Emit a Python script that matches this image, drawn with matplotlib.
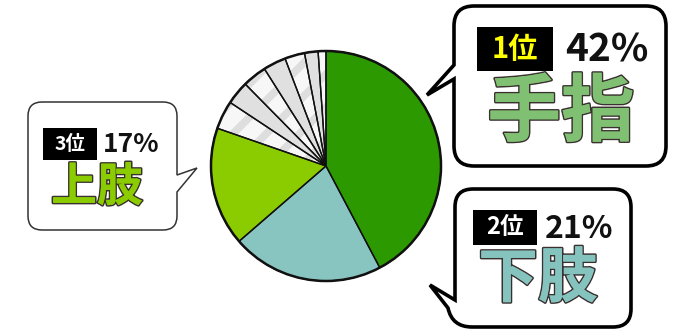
import matplotlib
matplotlib.use("Agg")
import matplotlib.pyplot as plt
from matplotlib.path import Path
from matplotlib.patches import PathPatch, Circle, Rectangle
import matplotlib.patheffects as pe

plt.rcParams['font.family'] = ['Noto Sans CJK JP', 'DejaVu Sans']
plt.rcParams['hatch.linewidth'] = 5.5
plt.rcParams['hatch.color'] = '#dedede'

# ---- data ----
categories = ["手指", "下肢", "上肢", "その他1", "その他2", "その他3", "その他4", "その他5", "その他6", "その他7"]
values = [42.3, 21.4, 16.7, 4.0, 3.3, 3.4, 3.2, 2.8, 1.9, 1.1]
ranks = ["1位", "2位", "3位"]
pct_labels = ["42%", "21%", "17%"]
top_names = ["手指", "下肢", "上肢"]

W, H = 674, 332
fig = plt.figure(figsize=(W / 100, H / 100), dpi=100)
ax = fig.add_axes([0, 0, 1, 1])

def Y(y):
    return H - y

# ---- pie ----
cx, cy, R = 326, 166, 115
main_colors = ['#2c9900', '#88c4c0', '#8acc00']
small_face = []
hatches = []
for i in range(len(values) - 3):
    if i % 2 == 0:
        small_face.append('#f7f7f7')
        hatches.append('/')
    else:
        small_face.append('#e0e0e0')
        hatches.append(None)
face = main_colors + small_face
hatch_all = [None, None, None] + hatches

wedges, _ = ax.pie(values, colors=face, startangle=90, counterclock=False,
                   center=(cx, Y(cy)), radius=R,
                   wedgeprops=dict(linewidth=0, edgecolor='#dedede'))
for w, h in zip(wedges, hatch_all):
    if h:
        w.set_hatch(h)
# outlines
wedges2, _ = ax.pie(values, colors=['none'] * len(values), startangle=90, counterclock=False,
                    center=(cx, Y(cy)), radius=R,
                    wedgeprops=dict(linewidth=1.0, edgecolor='#111111', facecolor='none'))
ax.add_patch(Circle((cx, Y(cy)), R, facecolor='none', edgecolor='#111111', linewidth=1.8, zorder=3))

# ---- callout boxes ----
def box_path(x0, y0, x1, y1, r, left_tail=None, right_tail=None, bottom_left_tail=None):
    v, c = [], []
    def mv(p):
        v.append((p[0], Y(p[1]))); c.append(Path.MOVETO)
    def ln(p):
        v.append((p[0], Y(p[1]))); c.append(Path.LINETO)
    def q(ctrl, p):
        v.append((ctrl[0], Y(ctrl[1]))); c.append(Path.CURVE3)
        v.append((p[0], Y(p[1]))); c.append(Path.CURVE3)
    mv((x0 + r, y0))
    ln((x1 - r, y0))
    q((x1, y0), (x1, y0 + r))
    if right_tail:
        for p in right_tail:
            ln(p)
    ln((x1, y1 - r))
    q((x1, y1), (x1 - r, y1))
    if bottom_left_tail:
        for kind, pts in bottom_left_tail:
            if kind == 'L':
                ln(pts)
            else:
                q(pts[0], pts[1])
    else:
        ln((x0 + r, y1))
        q((x0, y1), (x0, y1 - r))
    if left_tail:
        for p in left_tail:
            ln(p)
    ln((x0, y0 + r))
    q((x0, y0), (x0 + r, y0))
    v.append((x0 + r, Y(y0))); c.append(Path.CLOSEPOLY)
    return Path(v, c)

# box 1 (top right)
p1 = box_path(454, 6, 666, 166, 20, left_tail=[(454, 79), (427, 95), (454, 65)])
ax.add_patch(PathPatch(p1, facecolor='white', edgecolor='black', linewidth=2.6,
                       joinstyle='miter', zorder=5))
# box 2 (bottom right)
p2 = box_path(455, 189, 631, 327, 18,
              bottom_left_tail=[('L', (472, 327)), ('Q', ((452, 327), (448, 308))),
                                ('L', (430, 285)), ('L', (455, 300))])
ax.add_patch(PathPatch(p2, facecolor='white', edgecolor='black', linewidth=2.6,
                       joinstyle='miter', zorder=5))
# box 3 (left)
p3 = box_path(28, 102, 177, 230, 14, right_tail=[(177, 175), (197, 168), (177, 192)])
ax.add_patch(PathPatch(p3, facecolor='white', edgecolor='#333333', linewidth=1.1,
                       joinstyle='miter', zorder=5))

# ---- labels ----
name_colors = ['#80c073', '#85c3be', '#8acc00']
rank_colors = ['#ffff00', 'white', 'white']
specs = [
    # rank box (x0,y0,x1,y1), rank fs, pct x, pct y, pct fs, name center, name fs
    ((477, 27, 553, 71), 21, 565, 50, 28, (561, 114), 53),
    ((473, 210, 537, 245), 17, 545, 229, 23, (538, 280), 43),
    ((43, 128, 97, 160), 14, 103, 145, 19, (97, 188), 33),
]
stroke = [pe.withStroke(linewidth=2.2, foreground='#3a3030'), pe.Normal()]
for i, (rb, rfs, px, py, pfs, nc, nfs) in enumerate(specs):
    x0, y0, x1, y1 = rb
    ax.add_patch(Rectangle((x0, Y(y1)), x1 - x0, y1 - y0, facecolor='black',
                           edgecolor='none', zorder=6))
    ax.text((x0 + x1) / 2, Y((y0 + y1) / 2), ranks[i], color=rank_colors[i],
            fontsize=rfs, fontweight='bold', ha='center', va='center', zorder=7)
    ax.text(px, Y(py), pct_labels[i], color='#111111', fontsize=pfs, fontweight='bold',
            ha='left', va='center', zorder=7)
    ax.text(nc[0], Y(nc[1]), top_names[i], color=name_colors[i], fontsize=nfs,
            fontweight='bold', ha='center', va='center', zorder=7, path_effects=stroke)

ax.set_xlim(0, W)
ax.set_ylim(0, H)
ax.set_aspect('equal')
ax.axis('off')
fig.savefig('out.png', dpi=100)
